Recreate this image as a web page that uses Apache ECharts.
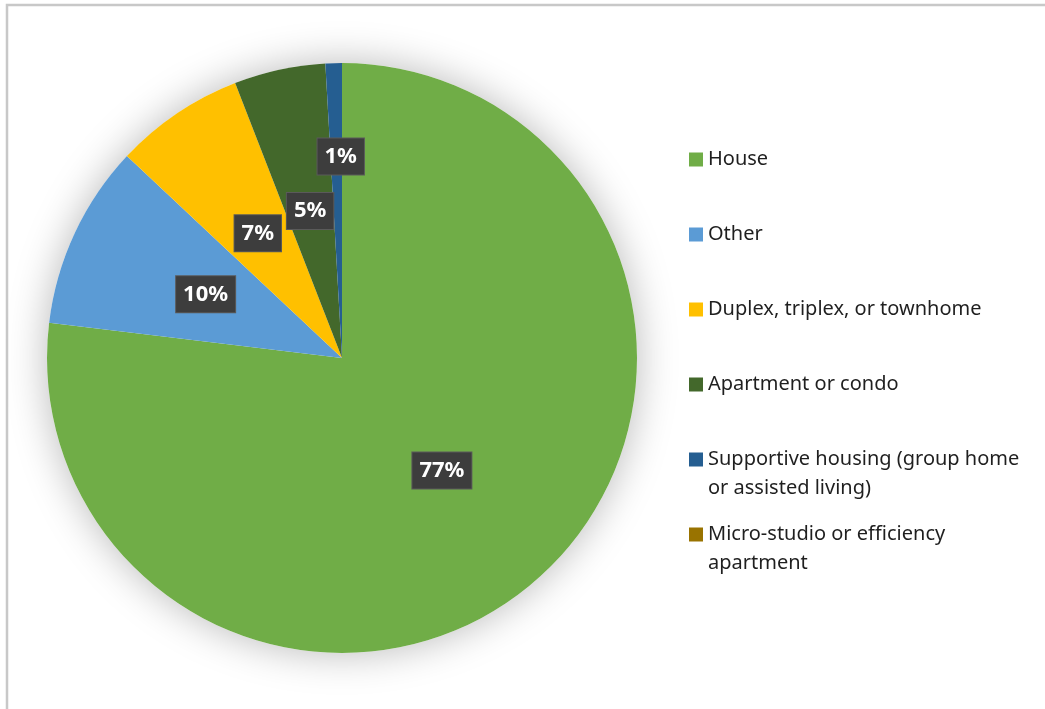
<!DOCTYPE html>
<html>
<head>
<meta charset="utf-8">
<script src="https://cdn.jsdelivr.net/npm/echarts@6/dist/echarts.min.js"></script>
<style>
  html, body { margin: 0; padding: 0; background: #fff; }
  #chart { width: 1045px; height: 709px; }
</style>
</head>
<body>
<div id="chart"></div>
<script>
// 数据
const categories = ['House', 'Other', 'Duplex, triplex, or townhome', 'Apartment or condo',
  'Supportive housing (group home or assisted living)', 'Micro-studio or efficiency apartment']
const legendText = ['House', 'Other', 'Duplex, triplex, or townhome', 'Apartment or condo',
  'Supportive housing (group home\nor assisted living)', 'Micro-studio or efficiency\napartment']
const shares = [76.9, 10.1, 7.1, 5.0, 0.9, 0]
const colors = ['#70AD47', '#5B9BD5', '#FFC000', '#43682B', '#255E91', '#997300']

const mChart = echarts.init(document.getElementById('chart'))

const total = shares.reduce((a, b) => a + b, 0)

const pieData = categories.map((name, i) => {
  const item = { name, value: shares[i], itemStyle: { color: colors[i] } }
  // 0 的扇区不显示标签
  if (shares[i] === 0) item.label = { show: false }
  // 1% 的标签往上挪，跟原图一样
  if (i === 4) item.label = { offset: [3, -51] }
  return item
})

const options = {
  animation: false,
  // 外框
  graphic: [{
    type: 'rect',
    shape: { x: 7, y: 5, width: 1200, height: 900 },
    style: { fill: 'none', stroke: '#c8c8c8', lineWidth: 2.5 },
    silent: true,
    z: 0
  }],
  legend: {
    orient: 'vertical',
    left: 684,
    top: 111,
    itemWidth: 14,
    itemHeight: 14,
    itemGap: -12,
    icon: 'rect',
    data: categories,
    textStyle: {
      fontFamily: 'Noto Sans',
      fontSize: 20,
      color: '#1f1f1f',
      lineHeight: 29
    },
    // 图标对齐第一行文字
    formatter: function (name) {
      const txt = legendText[categories.indexOf(name)]
      return '\n' + txt + (txt.indexOf('\n') < 0 ? '\n' : '')
    }
  },
  series: [
    // 阴影底盘
    {
      type: 'pie',
      center: [342, 358],
      radius: 295,
      silent: true,
      label: { show: false },
      labelLine: { show: false },
      itemStyle: {
        color: '#ffffff',
        shadowBlur: 40,
        shadowColor: 'rgba(0,0,0,0.28)'
      },
      data: [{ name: '_base', value: total }],
      z: 1
    },
    {
      type: 'pie',
      center: [342, 358],
      radius: 295,
      startAngle: 90,
      clockwise: true,
      label: {
        show: true,
        position: 'inside',
        formatter: (p) => Math.round(p.value) + '%',
        color: '#ffffff',
        fontFamily: 'Noto Sans',
        fontWeight: 'bold',
        fontSize: 22,
        backgroundColor: '#3d3d3d',
        borderColor: '#5a5a5a',
        borderWidth: 1,
        padding: [8, 7, 6, 7]
      },
      labelLine: { show: false },
      emphasis: { disabled: true },
      data: pieData,
      z: 2
    }
  ]
}

mChart.setOption(options)

window.addEventListener('resize', () => {
  mChart.resize()
})
</script>
</body>
</html>
